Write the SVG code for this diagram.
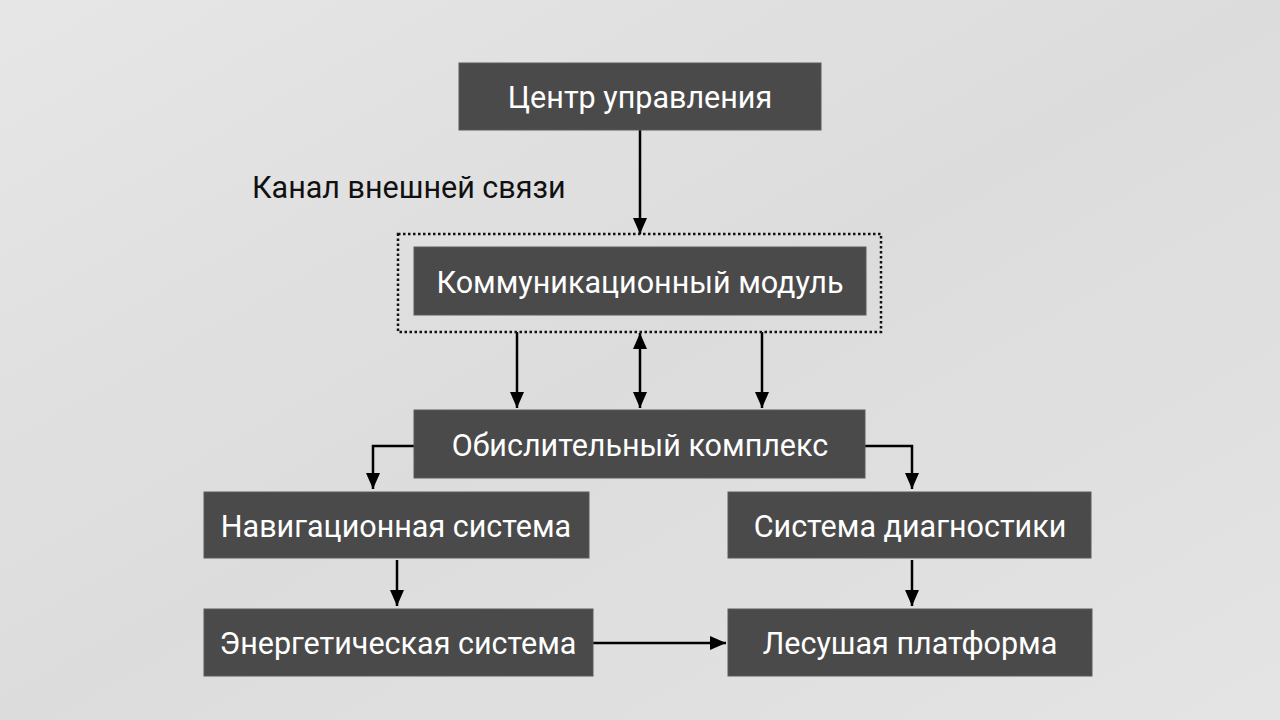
<svg xmlns="http://www.w3.org/2000/svg" width="1280" height="720" viewBox="0 0 1280 720">
<defs>
<linearGradient id="bg" x1="0" y1="0" x2="1" y2="1">
<stop offset="0" stop-color="#e6e6e6"/>
<stop offset="0.5" stop-color="#dcdcdc"/>
<stop offset="1" stop-color="#e4e4e4"/>
</linearGradient>
<marker id="ahb" viewBox="0 0 16 14" refX="16" refY="7" markerWidth="16" markerHeight="14" markerUnits="userSpaceOnUse" orient="auto-start-reverse">
<path d="M0,0 L16,7 L0,14 z" fill="#000"/>
</marker>
</defs>
<style>
.box{fill:#4a4a4a;stroke:#5a5a5a;stroke-width:1}
.lbl{font-family:Roboto,"Liberation Sans",sans-serif;font-size:30.5px;fill:#fff;text-anchor:middle;dominant-baseline:central}
.note{font-family:Roboto,"Liberation Sans",sans-serif;font-size:30.5px;fill:#111}
.con{stroke:#000;stroke-width:2.5;fill:none}
</style>
<rect width="1280" height="720" fill="url(#bg)"/>
<g id="connectors">
<line class="con" x1="640" y1="130" x2="640" y2="234" marker-end="url(#ahb)"/>
<line class="con" x1="517" y1="332" x2="517" y2="408" marker-end="url(#ahb)"/>
<line class="con" x1="640" y1="333" x2="640" y2="408" marker-start="url(#ahb)" marker-end="url(#ahb)"/>
<line class="con" x1="762" y1="332" x2="762" y2="408" marker-end="url(#ahb)"/>
<polyline class="con" points="414,446 373,446 373,489" marker-end="url(#ahb)"/>
<polyline class="con" points="865,446 912,446 912,489" marker-end="url(#ahb)"/>
<line class="con" x1="397" y1="560" x2="397" y2="606" marker-end="url(#ahb)"/>
<line class="con" x1="912" y1="560" x2="912" y2="606" marker-end="url(#ahb)"/>
<line class="con" x1="593" y1="643" x2="726" y2="643" marker-end="url(#ahb)"/>
</g>
<g id="note">
<text class="note" x="252" y="198">Канал внешней связи</text>
</g>
<g id="n-center">
<rect class="box" x="459" y="63" width="362" height="67"/>
<text class="lbl" x="640" y="97">Центр управления</text>
</g>
<g id="n-comm">
<rect x="398" y="234" width="483" height="98" fill="none" stroke="#111" stroke-width="2.5" stroke-dasharray="2.5 2.5"/>
<rect class="box" x="414" y="247" width="452" height="68"/>
<text class="lbl" x="640" y="282">Коммуникационный модуль</text>
</g>
<g id="n-comp">
<rect class="box" x="414" y="410" width="451" height="68"/>
<text class="lbl" x="640" y="445">Обислительный комплекс</text>
</g>
<g id="n-nav">
<rect class="box" x="204" y="492" width="385" height="66"/>
<text class="lbl" x="396" y="526">Навигационная система</text>
</g>
<g id="n-diag">
<rect class="box" x="728" y="492" width="363" height="66"/>
<text class="lbl" x="910" y="526">Система диагностики</text>
</g>
<g id="n-energy">
<rect class="box" x="204" y="609" width="389" height="67"/>
<text class="lbl" x="398" y="643">Энергетическая система</text>
</g>
<g id="n-platform">
<rect class="box" x="728" y="609" width="364" height="67"/>
<text class="lbl" x="910" y="643">Лесушая платформа</text>
</g>
</svg>
